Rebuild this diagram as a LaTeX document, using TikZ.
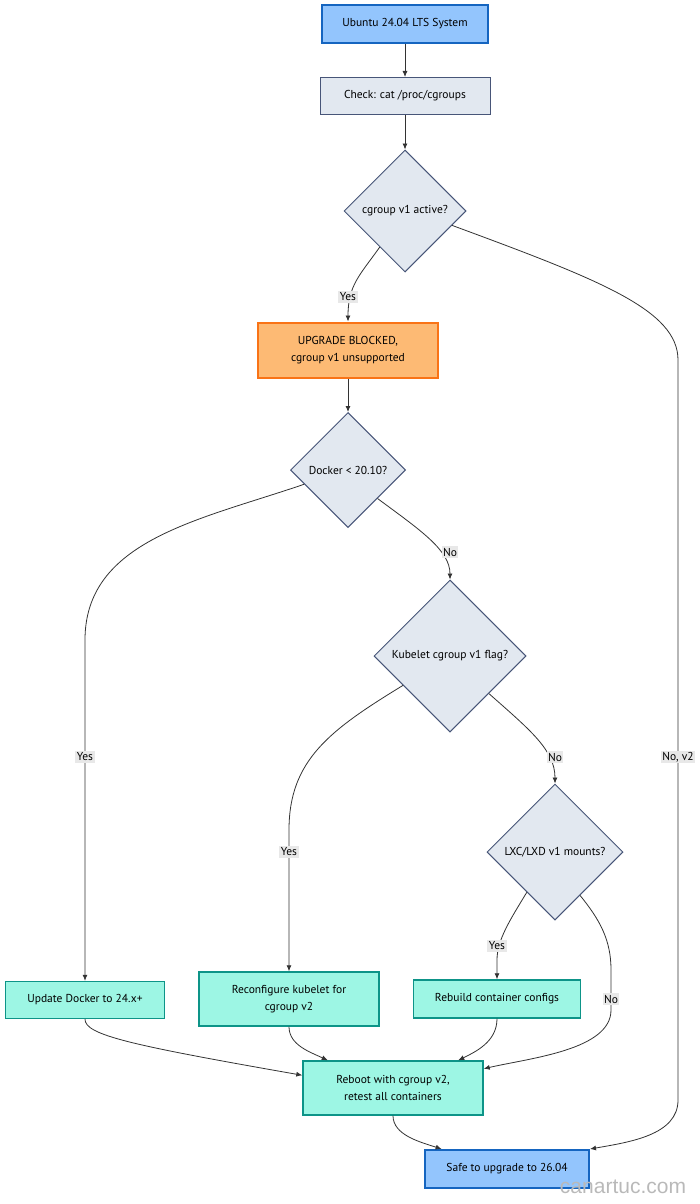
\documentclass[tikz,border=0pt]{standalone}
\usepackage{fontspec}
\setmainfont{PT Sans}
\newfontfamily\markfont{Liberation Sans}
\usetikzlibrary{shapes.geometric,arrows.meta}

\definecolor{blueFill}{RGB}{147,197,253}
\definecolor{blueLine}{RGB}{21,101,192}
\definecolor{slateFill}{RGB}{226,232,240}
\definecolor{slateLine}{RGB}{71,85,120}
\definecolor{orangeFill}{RGB}{253,186,116}
\definecolor{orangeLine}{RGB}{249,115,22}
\definecolor{tealFill}{RGB}{157,246,228}
\definecolor{tealLine}{RGB}{13,148,136}
\definecolor{linkGray}{RGB}{51,51,51}
\definecolor{labelGray}{RGB}{232,232,232}

\tikzset{
  txt/.style={font=\fontsize{11.5}{17}\selectfont, text=black},
  slatebox/.style={rectangle, draw=slateLine, fill=slateFill, line width=1pt, inner sep=0pt, align=center, txt},
  bluebox/.style={slatebox, draw=blueLine, fill=blueFill, line width=2pt},
  orangebox/.style={slatebox, draw=orangeLine, fill=orangeFill, line width=2pt},
  tealbox/.style={slatebox, draw=tealLine, fill=tealFill, line width=1.4pt},
  decision/.style={diamond, aspect=1, draw=slateLine, fill=slateFill, line width=1pt, inner sep=0pt, align=center, txt},
  link/.style={draw=linkGray, line width=0.8pt, -{Latex[length=6pt,width=5pt]}},
  lbl/.style={fill=labelGray, inner sep=1.5pt, txt}
}

\begin{document}
\begin{tikzpicture}[x=1pt,y=1pt,yscale=-1]
\useasboundingbox (0,0) rectangle (700,1204);

%Shape: Rectangle [start]
\node[bluebox, minimum width=166, minimum height=38] (ubu) at (405,24) {Ubuntu 24.04 LTS System};
%Shape: Rectangle [check]
\node[slatebox, minimum width=170, minimum height=37] (chk) at (405,96) {Check: cat /proc/cgroups};
%Shape: Diamond [v1 active]
\node[decision, minimum width=122, minimum height=122] (d1) at (405,211) {cgroup v1 active?};
%Shape: Rectangle [blocked]
\node[orangebox, minimum width=180, minimum height=55] (blk) at (348,350) {UPGRADE BLOCKED,\\cgroup v1 unsupported};
%Shape: Diamond [docker]
\node[decision, minimum width=115, minimum height=115] (d2) at (348,470) {Docker < 20.10?};
%Shape: Diamond [kubelet]
\node[decision, minimum width=152, minimum height=152] (d3) at (450,656) {Kubelet cgroup v1 flag?};
%Shape: Diamond [lxc]
\node[decision, minimum width=136, minimum height=136] (d4) at (555,852) {LXC/LXD v1 mounts?};
%Shape: Rectangle [fixes]
\node[tealbox, minimum width=159, minimum height=37] (upd) at (85,1000) {Update Docker to 24.x+};
\node[tealbox, minimum width=180, minimum height=54] (recfg) at (289,999) {Reconfigure kubelet for\\cgroup v2};
\node[tealbox, minimum width=167, minimum height=38] (rbd) at (497,999) {Rebuild container configs};
\node[tealbox, minimum width=180, minimum height=54] (reboot) at (393,1088) {Reboot with cgroup v2,\\retest all containers};
%Shape: Rectangle [safe]
\node[bluebox, minimum width=164, minimum height=38] (safe) at (507,1169) {Safe to upgrade to 26.04};

%Straight Lines
\draw[link] (ubu) -- (chk);
\draw[link] (chk) -- (d1);
\draw[link] (blk) -- (d2);
%Curves
\draw[link] (d1.-125) .. controls (360,275) and (348,285) .. (blk.north);
\draw[link] (d1.-17) .. controls (600,280) and (678,310) .. (678,360) -- (678,1100) .. controls (678,1135) and (630,1142) .. (safe.north east);
\draw[link] (d2.-162) .. controls (200,520) and (85,540) .. (85,640) -- (upd.north);
\draw[link] (d2.-44) .. controls (420,530) and (450,550) .. (d3.north);
\draw[link] (d3.-148) .. controls (330,730) and (289,760) .. (289,830) -- (recfg.north);
\draw[link] (d3.-44) .. controls (530,730) and (555,750) .. (d4.north);
\draw[link] (d4.-125) .. controls (510,920) and (497,940) .. (497,960) -- (rbd.north);
\draw[link] (d4.-60) .. controls (600,920) and (611,940) .. (611,970) -- (611,1010) .. controls (611,1050) and (530,1058) .. (reboot.12);
\draw[link] (upd.south) .. controls (85,1035) and (130,1045) .. (reboot.172);
\draw[link] (recfg.south) .. controls (289,1045) and (310,1052) .. (reboot.157);
\draw[link] (rbd.south) .. controls (497,1042) and (475,1052) .. (reboot.23);
\draw[link] (reboot.south) .. controls (393,1135) and (420,1142) .. (safe.163);

% Text Node
\node[lbl] (yes1) at (348,297) {Yes};
\node[lbl] (nov2) at (678,757) {No, v2};
\node[lbl] (yes2) at (85,757) {Yes};
\node[lbl] (no1) at (450,552) {No};
\node[lbl] (yes3) at (289,852) {Yes};
\node[lbl] (no2) at (555,757) {No};
\node[lbl] (yes4) at (497,946) {Yes};
\node[lbl] (no3) at (611,999) {No};
% Text Node
\node[font=\markfont\fontsize{21}{21}\selectfont, text={rgb,255:red,185;green,185;blue,185}] (mark) at (623,1187) {canartuc.com};

\end{tikzpicture}
\end{document}
